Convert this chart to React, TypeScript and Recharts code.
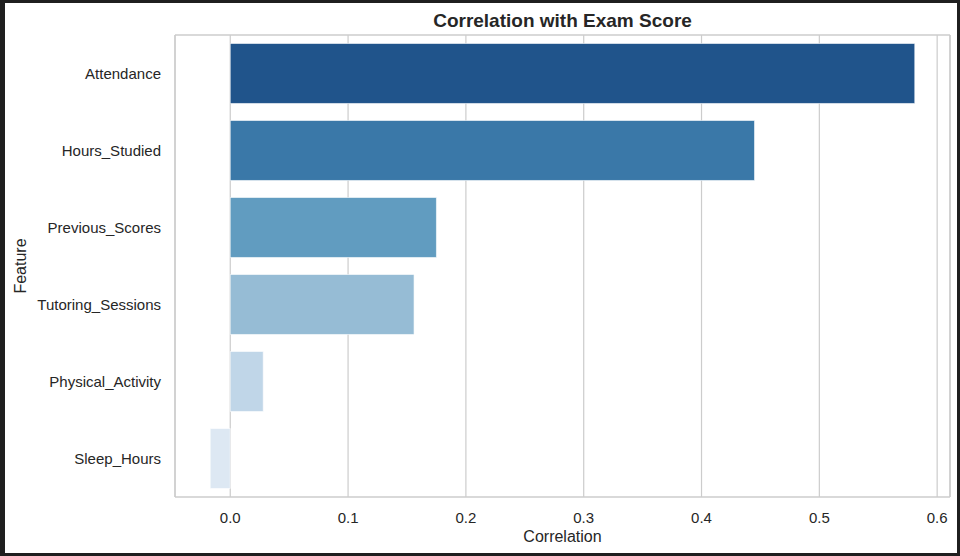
import React from 'react';
import { BarChart, Bar, XAxis, YAxis, CartesianGrid, Cell } from 'recharts';

const features = ['Attendance', 'Hours_Studied', 'Previous_Scores', 'Tutoring_Sessions', 'Physical_Activity', 'Sleep_Hours'];
const correlations = [0.581, 0.445, 0.175, 0.156, 0.028, -0.017];
const barColors = ['#20548b', '#3a78a8', '#619cc0', '#96bcd5', '#c0d6e8', '#dde8f3'];
const xTicks = [0, 0.1, 0.2, 0.3, 0.4, 0.5, 0.6];

const data = features.map((name, i) => ({ name, value: correlations[i] }));

// matplotlib-style 5% padding around the data range
const lo = Math.min(0, ...correlations);
const hi = Math.max(0, ...correlations);
const pad = (hi - lo) * 0.05;
const xDomain = [lo - pad, hi + pad];

const FONT = 'Arial, "Liberation Sans", sans-serif';
const GRID = '#cccccc';

const App: React.FC = () => {
  return (
    <div style={{ position: 'fixed', left: 0, top: 0, width: 960, height: 556, background: '#1f1f1f', fontFamily: FONT }}>
      <div style={{ position: 'absolute', left: 5, top: 3, width: 952, height: 550, background: '#ffffff' }} />
      <div
        style={{
          position: 'absolute',
          left: 175,
          width: 775,
          top: 9,
          textAlign: 'center',
          fontSize: 19,
          fontWeight: 'bold',
          color: '#262626',
          lineHeight: '24px',
        }}
      >
        Correlation with Exam Score
      </div>
      <div style={{ position: 'absolute', left: 0, top: 0 }}>
        <BarChart
          width={960}
          height={556}
          data={data}
          layout="vertical"
          margin={{ top: 35, right: 10, left: 0, bottom: 0 }}
          barCategoryGap="11%"
        >
          <CartesianGrid xAxisId="main" yAxisId="main" horizontal={false} stroke={GRID} strokeWidth={1.2} />
          {/* plot frame: top edge and right edge */}
          <CartesianGrid
            xAxisId="main"
            yAxisId="main"
            vertical={false}
            stroke={GRID}
            strokeWidth={1.4}
            horizontalCoordinatesGenerator={({ offset }: any) => [offset.top]}
          />
          <CartesianGrid
            xAxisId="main"
            yAxisId="main"
            horizontal={false}
            stroke={GRID}
            strokeWidth={1.4}
            verticalCoordinatesGenerator={({ offset }: any) => [offset.left + offset.width]}
          />
          <XAxis
            type="number"
            xAxisId="main"
            domain={xDomain}
            allowDataOverflow
            ticks={xTicks}
            tickFormatter={(v: number) => v.toFixed(1)}
            tickSize={0}
            tickMargin={15}
            height={59}
            axisLine={{ stroke: GRID, strokeWidth: 1.4 }}
            tickLine={false}
            tick={{ fontSize: 15, fill: '#262626', fontFamily: FONT }}
            label={{
              content: ({ viewBox }: any) => (
                <text
                  x={viewBox.x + viewBox.width / 2}
                  y={viewBox.y + 39}
                  textAnchor="middle"
                  dominantBaseline="central"
                  fontSize={16}
                  fill="#262626"
                  fontFamily={FONT}
                >
                  Correlation
                </text>
              ),
            }}
          />
          <YAxis
            type="category"
            dataKey="name"
            yAxisId="main"
            width={175}
            tickSize={0}
            tickMargin={14}
            axisLine={{ stroke: GRID, strokeWidth: 1.4 }}
            tickLine={false}
            tick={{ fontSize: 15, fill: '#262626', fontFamily: FONT }}
            label={{
              content: ({ viewBox }: any) => (
                <text
                  x={20}
                  y={viewBox.y + viewBox.height / 2}
                  transform={`rotate(-90 20 ${viewBox.y + viewBox.height / 2})`}
                  textAnchor="middle"
                  dominantBaseline="central"
                  fontSize={16}
                  fill="#262626"
                  fontFamily={FONT}
                >
                  Feature
                </text>
              ),
            }}
          />
          <Bar
            dataKey="value"
            xAxisId="main"
            yAxisId="main"
            isAnimationActive={false}
            stroke="#ffffff"
            strokeWidth={0.6}
          >
            {data.map((d, i) => (
              <Cell key={d.name} fill={barColors[i]} />
            ))}
          </Bar>
        </BarChart>
      </div>
    </div>
  );
};

export default App;
